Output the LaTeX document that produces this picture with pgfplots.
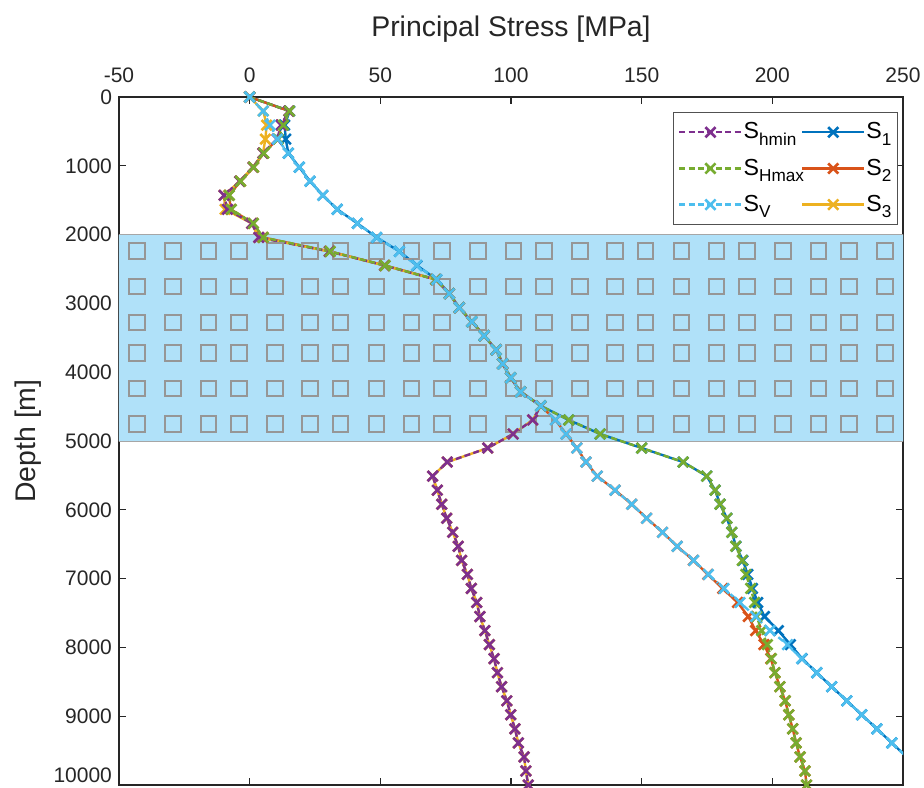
\documentclass[border=0pt]{standalone}
\usepackage{fontspec}
\setmainfont{Liberation Sans}
\usepackage{pgfplots}
\usepackage{pgfplotstable}
\pgfplotsset{compat=1.18}

\definecolor{cS1}{RGB}{0,114,189}
\definecolor{cS2}{RGB}{217,83,25}
\definecolor{cS3}{RGB}{237,177,32}
\definecolor{cShmin}{RGB}{126,47,142}
\definecolor{cSHmax}{RGB}{119,172,48}
\definecolor{cSV}{RGB}{77,190,238}
\definecolor{axgray}{RGB}{38,38,38}
\definecolor{shade}{RGB}{176,225,249}
\definecolor{sqgray}{RGB}{150,150,150}

\newcommand\sub[1]{\raisebox{-3.2pt}{\fontsize{8.6}{9}\selectfont #1}}

\pgfplotstableread{
d shmin shmax sv s1 s2 s3
0 0 0 0 0 0 0
204.1 15.0 15.2 5.2 15.3 15.1 5.2
408.2 12.0 12.9 7.8 13.4 12.2 6.5
612.2 10.5 10.9 10.6 13.8 10.7 6.0
816.3 5.1 5.4 14.8 14.8 5.3 5.1
1020.4 1.3 1.5 19.0 19.0 1.5 1.3
1224.5 -3.8 -3.5 23.1 23.1 -3.5 -3.8
1428.6 -9.8 -7.8 28.0 28.0 -7.9 -9.8
1632.7 -8.5 -7.0 33.5 33.5 -7.2 -9.4
1836.7 0.8 1.4 41.2 41.2 1.3 0.8
2040.8 3.5 5.2 48.6 48.6 5.0 3.5
2244.9 30.5 30.8 57.3 57.3 30.7 30.5
2449.0 51.6 51.8 63.9 64.0 51.8 51.6
2653.1 71.2 71.3 71.6 71.6 71.3 71.2
2857.1 76.4 76.4 76.4 76.4 76.4 76.4
3061.2 80.2 80.2 80.2 80.2 80.2 80.2
3265.3 85.0 85.0 85.0 85.0 85.0 85.0
3469.4 89.7 89.7 89.7 89.7 89.7 89.7
3673.5 94.3 94.3 94.3 94.3 94.3 94.3
3877.6 96.8 96.8 96.8 96.8 96.8 96.8
4081.6 99.9 99.9 99.9 99.9 99.9 99.9
4285.7 103.7 103.7 103.7 103.7 103.7 103.7
4489.8 111.4 111.4 111.4 111.4 111.4 111.4
4693.9 108.3 122.1 117.0 122.1 117.0 108.3
4898.0 100.8 134.1 121.1 134.1 121.1 100.8
5102.0 91.1 150.0 125.2 150.0 125.2 91.1
5306.1 75.6 165.9 128.7 165.9 128.7 75.6
5510.2 70.0 174.9 133.0 174.9 133.0 70.0
5714.3 71.8 178.1 139.8 178.1 139.8 71.8
5918.4 73.5 180.0 146.2 180.0 146.2 73.5
6122.4 75.4 182.6 151.9 182.6 151.9 75.4
6326.5 77.7 184.5 158.0 184.5 158.0 77.7
6530.6 79.8 186.0 163.6 186.1 163.6 79.8
6734.7 81.1 188.5 169.9 188.7 169.8 81.1
6938.8 83.3 189.9 175.5 190.6 175.3 83.3
7142.9 84.8 191.7 181.5 192.4 181.0 84.8
7346.9 86.9 193.2 187.6 194.4 186.7 86.9
7551.0 88.1 194.0 193.6 197.0 190.8 88.1
7755.1 90.0 195.9 199.1 202.3 193.6 90.0
7959.2 91.7 198.1 205.8 206.9 196.8 91.7
8163.3 93.5 199.6 211.2 211.4 199.4 93.5
8367.3 94.8 201.0 217.0 217.0 201.0 94.8
8571.4 96.4 202.9 222.7 222.7 202.9 96.4
8775.5 98.4 204.9 228.5 228.5 204.9 98.4
8979.6 99.9 206.3 234.2 234.2 206.3 99.9
9183.7 101.5 207.8 240.0 240.0 207.8 101.5
9387.8 102.8 209.1 245.7 245.7 209.1 102.8
9591.8 105.0 210.6 251.4 251.4 210.6 105.0
9795.9 105.7 212.5 257.1 257.1 212.5 105.7
10000 106.6 213.1 262.8 262.8 213.1 106.6
}\data

\pgfplotsset{
  dashln/.style={line width=1.2pt, dash pattern=on 3pt off 1.6pt, mark=x, mark size=3.6pt, mark options={solid, line width=1.3pt}},
  solidln/.style={line width=1.2pt, solid, mark=x, mark size=3.6pt, mark options={solid, line width=1.3pt}},
}

\begin{document}
\begin{tikzpicture}
\begin{axis}[
  name=ax,
  scale only axis,
  width=392pt, height=344pt,
  xmin=-50, xmax=250, ymin=0, ymax=10000,
  y dir=reverse,
  enlargelimits=false,
  xtick={-50,0,50,100,150,200,250},
  ytick={0,1000,2000,3000,4000,5000,6000,7000,8000,9000,10000},
  yticklabels={0,1000,2000,3000,4000,5000,6000,7000,8000,9000,\raisebox{4.75pt}[\height][\depth]{10000}},
  xticklabel pos=upper,
  tick align=inside,
  major tick length=3.5pt,
  scaled ticks=false,
  /pgf/number format/assume math mode=true,
  /pgf/number format/set thousands separator={},
  tick label style={font=\fontsize{10.5}{12}\selectfont, text=axgray},
  xticklabel style={yshift=3.5pt},
  axis line style={axgray, line width=0.6pt},
  every tick/.style={axgray, line width=0.6pt},
  title={Principal Stress [MPa]},
  title style={at={(axis description cs:0.5,1)}, anchor=center, yshift=28pt, font=\fontsize{14.2}{16}\selectfont, text=axgray},
  ylabel={Depth [m]},
  ylabel style={at={(axis description cs:0,0.5)}, anchor=center, yshift=45.5pt, font=\fontsize{14.2}{16}\selectfont, text=axgray},
  legend columns=2,
  legend cell align=left,
  legend image code/.code={\draw[mark repeat=2,mark phase=2] plot coordinates {(0pt,0pt) (15.5pt,0pt) (31pt,0pt)};},
  legend style={at={(axis description cs:0.9936,0.978)}, anchor=north east, draw=axgray!80, line width=0.5pt, fill=white,
    font=\fontsize{11.6}{13}\selectfont, row sep=4.5pt, inner xsep=2.5pt, inner ysep=3pt,
    nodes={inner xsep=0.5pt},
    /tikz/every even column/.append style={column sep=-2pt}},
]
\addplot[fill=shade, draw=gray!70, line width=0.5pt, forget plot] coordinates {(-50,2000) (250,2000) (250,5000) (-50,5000) (-50,2000)};
\pgfplotsinvokeforeach{2234,2757,3275,3717,4234,4753}{
\addplot[only marks, mark=square, mark size=3.9pt, color=sqgray, mark options={line width=1pt}, forget plot] coordinates {
(-43.0,#1) (-29.3,#1) (-15.8,#1) (-4.1,#1) (9.6,#1) (23.1,#1) (34.8,#1) (48.5,#1) (62.0,#1)
(73.7,#1) (87.4,#1) (100.9,#1) (112.6,#1) (126.3,#1) (139.8,#1) (151.5,#1) (165.2,#1) (178.7,#1)
(190.4,#1) (204.1,#1) (217.6,#1) (229.3,#1) (243.0,#1)};
}
\addplot[solidln, color=cS1, forget plot] table[x=s1, y=d] {\data};
\addplot[solidln, color=cS2, forget plot] table[x=s2, y=d] {\data};
\addplot[solidln, color=cS3, forget plot] table[x=s3, y=d] {\data};
\addplot[dashln, color=cShmin, forget plot] table[x=shmin, y=d] {\data};
\addplot[dashln, color=cSHmax, forget plot] table[x=shmax, y=d] {\data};
\addplot[dashln, color=cSV, forget plot] table[x=sv, y=d] {\data};

\addlegendimage{dashln, color=cShmin}
\addlegendentry{S\sub{hmin}}
\addlegendimage{solidln, color=cS1}
\addlegendentry{S\sub{1}}
\addlegendimage{dashln, color=cSHmax}
\addlegendentry{S\sub{Hmax}}
\addlegendimage{solidln, color=cS2}
\addlegendentry{S\sub{2}}
\addlegendimage{dashln, color=cSV}
\addlegendentry{S\sub{V}}
\addlegendimage{solidln, color=cS3}
\addlegendentry{S\sub{3}}

\coordinate (bl) at (axis description cs:0,0);
\coordinate (tr) at (axis description cs:1,1);
\end{axis}
\pgfresetboundingbox
\path ([shift={(-59.5pt,-1pt)}]bl) rectangle ([shift={(10.5pt,48.5pt)}]tr);
\end{tikzpicture}
\end{document}
